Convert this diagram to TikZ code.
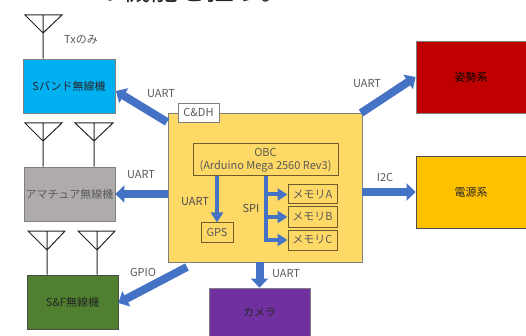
\documentclass[tikz,border=0pt]{standalone}
\usepackage{fontspec}
\setmainfont{Noto Sans CJK JP}
\usetikzlibrary{arrows.meta}
\definecolor{busblue}{HTML}{4472C4}
\definecolor{obcyellow}{HTML}{FFD966}
\definecolor{linegray}{HTML}{7F7F7F}
\definecolor{labelgray}{HTML}{595959}
\definecolor{inline}{HTML}{6E5C2C}
\tikzset{
  subsys/.style={draw=linegray,line width=0.8pt,inner sep=0pt,font=\fontsize{11}{13}\selectfont,text=black!85},
  inbox/.style={draw=inline,line width=1pt,fill=obcyellow,inner sep=0pt,font=\fontsize{11}{13}\selectfont,text=black!65},
  buslabel/.style={inner sep=0pt,font=\fontsize{11}{13}\selectfont,text=labelgray},
  bus/.style={draw=busblue,line width=8pt,-{Triangle[length=9pt,width=17pt]}},
  thinbus/.style={draw=busblue,line width=4pt,-{Triangle[length=10pt,width=12pt]}},
  antenna/.style={draw=black!85,line width=1pt,line join=miter}
}
\begin{document}
\begin{tikzpicture}[x=1pt,y=-1pt]
    \useasboundingbox (0,0) rectangle (526,336);
    \begin{scope}
    \clip (0,0) rectangle (526,336);
    \node (title) [anchor=base west,inner sep=0pt,font=\fontsize{28}{30}\selectfont,text=black!85] at (94,1) {の機能を担う。};
    \end{scope}
    % subsystems
    \node (sband) [subsys,fill={rgb,255:red,0;green,176;blue,240},minimum width=92pt,minimum height=54pt] at (69,86) {Sバンド無線機};
    \node (amateur) [subsys,fill={rgb,255:red,175;green,171;blue,171},text=black!65,minimum width=91pt,minimum height=54pt] at (69.5,194) {アマチュア無線機};
    \node (sf) [subsys,fill={rgb,255:red,79;green,127;blue,47},draw=black!70,minimum width=91pt,minimum height=54pt] at (72.5,302) {S\&F無線機};
    \node (attitude) [subsys,fill={rgb,255:red,192;green,0;blue,0},text=black,minimum width=110pt,minimum height=72pt] at (471,77) {姿勢系};
    \node (power) [subsys,fill={rgb,255:red,255;green,192;blue,0},draw=black!70,minimum width=110pt,minimum height=72pt] at (471,192) {電源系};
    \node (camera) [subsys,fill={rgb,255:red,112;green,48;blue,160},minimum width=101pt,minimum height=48pt] at (259.5,312) {カメラ};
    % C&DH box
    \node (cdh) [subsys,fill=obcyellow,minimum width=194pt,minimum height=149pt] at (265,187.5) {};
    \node (cdhtag) [subsys,fill=white,text=black!65,minimum width=41pt,minimum height=19pt] at (198.5,112.5) {C\&DH};
    \node (obc) [inbox,align=center,minimum width=145pt,minimum height=32pt] at (265.5,160) {OBC\\(Arduino Mega 2560 Rev3)};
    \node (gps) [inbox,minimum width=32pt,minimum height=19pt] at (217,232.5) {GPS};
    \node (mema) [inbox,minimum width=49pt,minimum height=19pt] at (312.5,194.5) {メモリA};
    \node (memb) [inbox,minimum width=49pt,minimum height=20pt] at (312.5,217) {メモリB};
    \node (memc) [inbox,minimum width=49pt,minimum height=20pt] at (312.5,240) {メモリC};
    % antennas
    \draw [antenna] (25,15) -- (62,15) -- (43,33) -- cycle (43,15) -- (43,33) -- (sband.north -| 43,0);
    \draw [antenna] (25,123) -- (62,123) -- (43,141) -- cycle (43,123) -- (43,141) -- (amateur.north -| 43,0);
    \draw [antenna] (75,123) -- (113,123) -- (94,141) -- cycle (94,123) -- (94,141) -- (amateur.north -| 94,0);
    \draw [antenna] (28,231) -- (65,231) -- (47,250) -- cycle (47,231) -- (47,250) -- (sf.north -| 47,0);
    \draw [antenna] (78,231) -- (115,231) -- (97,250) -- cycle (97,231) -- (97,250) -- (sf.north -| 97,0);
    % buses
    \coordinate (busa) at (167,122);
    \coordinate (busb) at (361,113);
    \coordinate (busc) at (187,267);
    \coordinate (busd) at (266,176);
    \draw [bus] (busa) -- (116,91);
    \draw [bus] (busb) -- (attitude.west |- 0,77);
    \draw [bus] (cdh.west |- amateur.east) -- (amateur.east);
    \draw [bus] (cdh.east |- power.west) -- (power.west);
    \draw [bus] (busc) -- (sf.east |- 0,303);
    \draw [bus] (cdh.south -| camera.north) -- (camera.north);
    \draw [thinbus] (obc.south -| gps.north) -- (gps.north);
    \draw [thinbus] (busd) |- (mema.west);
    \draw [thinbus] (busd) |- (memb.west);
    \draw [thinbus] (busd) |- (memc.west);
    % labels
    \node (txonly) [buslabel] at (81,40) {Txのみ};
    \node (uartsband) [buslabel] at (161,94) {UART};
    \node (uartamateur) [buslabel] at (141,175) {UART};
    \node (gpiosf) [buslabel] at (143,272) {GPIO};
    \node (uartattitude) [buslabel] at (367,84) {UART};
    \node (i2cpower) [buslabel] at (385,177) {I2C};
    \node (uartcamera) [buslabel] at (286,274) {UART};
    \node (uartgps) [buslabel,text=black!70] at (195,202) {UART};
    \node (spimem) [buslabel,text=black!70] at (251,208) {SPI};
\end{tikzpicture}
\end{document}
